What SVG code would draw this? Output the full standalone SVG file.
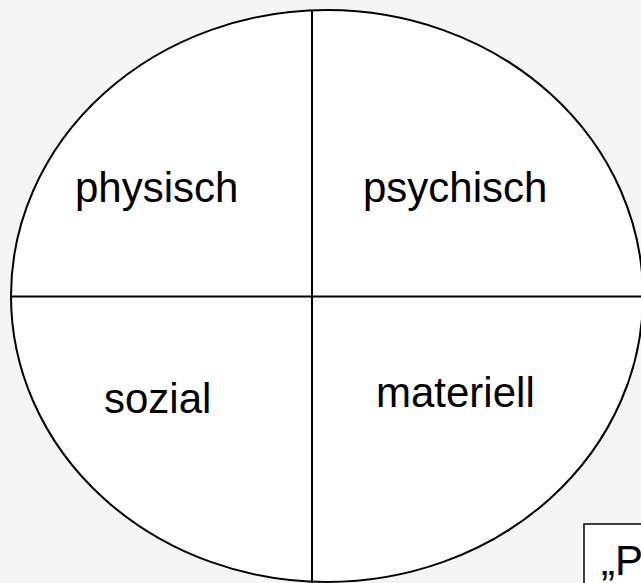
<svg xmlns="http://www.w3.org/2000/svg" width="641" height="583" viewBox="0 0 641 583">
<style>
.ln{stroke:#000;stroke-width:2;fill:none}
.t{font-family:"Liberation Sans",Arial,sans-serif;font-size:42px;fill:#000}
</style>
<rect width="641" height="583" fill="#f5f5f5"/>
<g id="circle">
<ellipse cx="327" cy="296" rx="316" ry="286" fill="#fff" stroke="#000" stroke-width="2"/>
</g>
<g id="connectors">
<line class="ln" x1="312" y1="10" x2="312" y2="583"/>
<line class="ln" x1="11" y1="296.5" x2="641" y2="296.5"/>
</g>
<g id="physisch"><text class="t" x="75" y="202">physisch</text></g>
<g id="psychisch"><text class="t" x="363" y="202">psychisch</text></g>
<g id="sozial"><text class="t" x="104" y="413">sozial</text></g>
<g id="materiell"><text class="t" x="376" y="407">materiell</text></g>
<g id="note">
<rect x="584" y="524" width="70" height="70" fill="#fff" stroke="#000" stroke-width="1.5"/>
<text class="t" x="601" y="575">„P</text>
</g>
</svg>
